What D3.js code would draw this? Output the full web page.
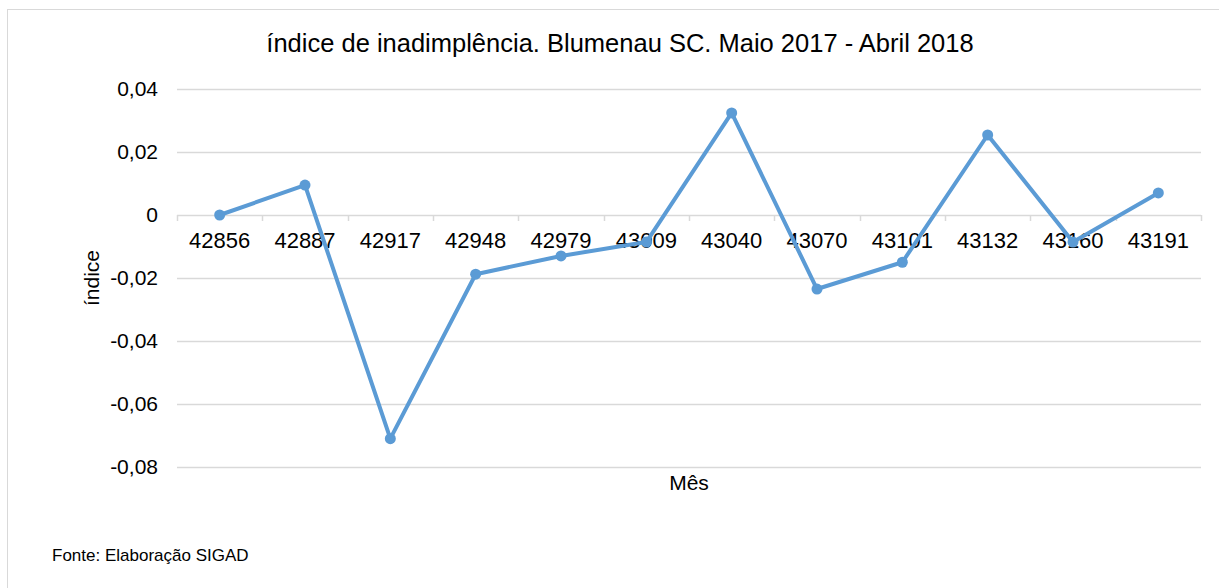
<!DOCTYPE html>
<html>
<head>
<meta charset="utf-8">
<script src="https://cdn.jsdelivr.net/npm/d3@7"></script>
<style>
  body { margin: 0; background: #fff; }
  svg { display: block; font-family: "Liberation Sans", Arial, sans-serif; }
</style>
</head>
<body>
<svg id="chart" width="1219" height="588"></svg>
<script>
// dados
var meses = ["42856", "42887", "42917", "42948", "42979", "43009", "43040", "43070", "43101", "43132", "43160", "43191"];
var indice = [0, 0.0095, -0.0710, -0.0188, -0.0130, -0.0086, 0.0324, -0.0235, -0.0150, 0.0254, -0.0086, 0.0070];
var yTicks = [0.04, 0.02, 0, -0.02, -0.04, -0.06, -0.08];

var svg = d3.select("#chart");
var plotLeft = 177, plotRight = 1201, plotTop = 89, plotBottom = 467;

// borda do gráfico (sai da imagem à direita e embaixo)
svg.append("rect")
    .attr("x", 7.5).attr("y", 9.5)
    .attr("width", 1240).attr("height", 600)
    .attr("fill", "none").attr("stroke", "#d9d9d9").attr("stroke-width", 1);

var x = d3.scaleBand().domain(meses).range([plotLeft, plotRight]);
var y = d3.scaleLinear().domain([-0.08, 0.04]).range([plotBottom, plotTop]);

// linhas de grade
svg.append("g").selectAll("line")
    .data(yTicks)
    .join("line")
    .attr("x1", plotLeft).attr("x2", plotRight)
    .attr("y1", function(d){ return Math.round(y(d)) + 0.5; })
    .attr("y2", function(d){ return Math.round(y(d)) + 0.5; })
    .attr("stroke", "#d9d9d9").attr("stroke-width", 1.5);

// rótulos do eixo y
svg.append("g").selectAll("text")
    .data(yTicks)
    .join("text")
    .attr("x", 158)
    .attr("y", function(d){ return y(d); })
    .attr("dy", "0.35em")
    .attr("text-anchor", "end")
    .attr("font-size", 21)
    .attr("fill", "#000")
    .text(function(d){ return d === 0 ? "0" : d3.format(".2f")(d).replace(".", ",").replace("−", "-"); });

// eixo x no zero, com marcas entre as categorias
var xAxis = d3.axisBottom(x).tickSize(0).tickPadding(17);
var gx = svg.append("g")
    .attr("transform", "translate(0," + (Math.round(y(0)) + 0.5) + ")")
    .call(xAxis);
gx.select(".domain").remove();
gx.selectAll("text").attr("font-size", 22).attr("fill", "#000").attr("font-family", "Liberation Sans, Arial, sans-serif");

var bounds = meses.map(function(m){ return x(m); }).concat([plotRight]);
svg.append("g").selectAll("line")
    .data(bounds)
    .join("line")
    .attr("x1", function(d){ return Math.round(d) + 0.5; })
    .attr("x2", function(d){ return Math.round(d) + 0.5; })
    .attr("y1", y(0)).attr("y2", y(0) + 6)
    .attr("stroke", "#d9d9d9").attr("stroke-width", 1.5);

// série
var line = d3.line()
    .x(function(d, i){ return x(meses[i]) + x.bandwidth() / 2; })
    .y(function(d){ return y(d); });

svg.append("path")
    .datum(indice)
    .attr("d", line)
    .attr("fill", "none")
    .attr("stroke", "#5b9bd5")
    .attr("stroke-width", 4)
    .attr("stroke-linejoin", "round");

svg.append("g").selectAll("circle")
    .data(indice)
    .join("circle")
    .attr("cx", function(d, i){ return x(meses[i]) + x.bandwidth() / 2; })
    .attr("cy", function(d){ return y(d); })
    .attr("r", 5.5)
    .attr("fill", "#5b9bd5");

// títulos
svg.append("text")
    .attr("x", 620).attr("y", 52)
    .attr("text-anchor", "middle")
    .attr("font-size", 25.5)
    .attr("fill", "#000")
    .text("índice de inadimplência. Blumenau SC. Maio 2017 - Abril 2018");

svg.append("text")
    .attr("transform", "translate(99,278) rotate(-90)")
    .attr("text-anchor", "middle")
    .attr("font-size", 21)
    .attr("fill", "#000")
    .text("índice");

svg.append("text")
    .attr("x", 689).attr("y", 490)
    .attr("text-anchor", "middle")
    .attr("font-size", 21)
    .attr("fill", "#000")
    .text("Mês");

svg.append("text")
    .attr("x", 52).attr("y", 561)
    .attr("font-size", 17)
    .attr("fill", "#000")
    .text("Fonte: Elaboração SIGAD");
</script>
</body>
</html>
